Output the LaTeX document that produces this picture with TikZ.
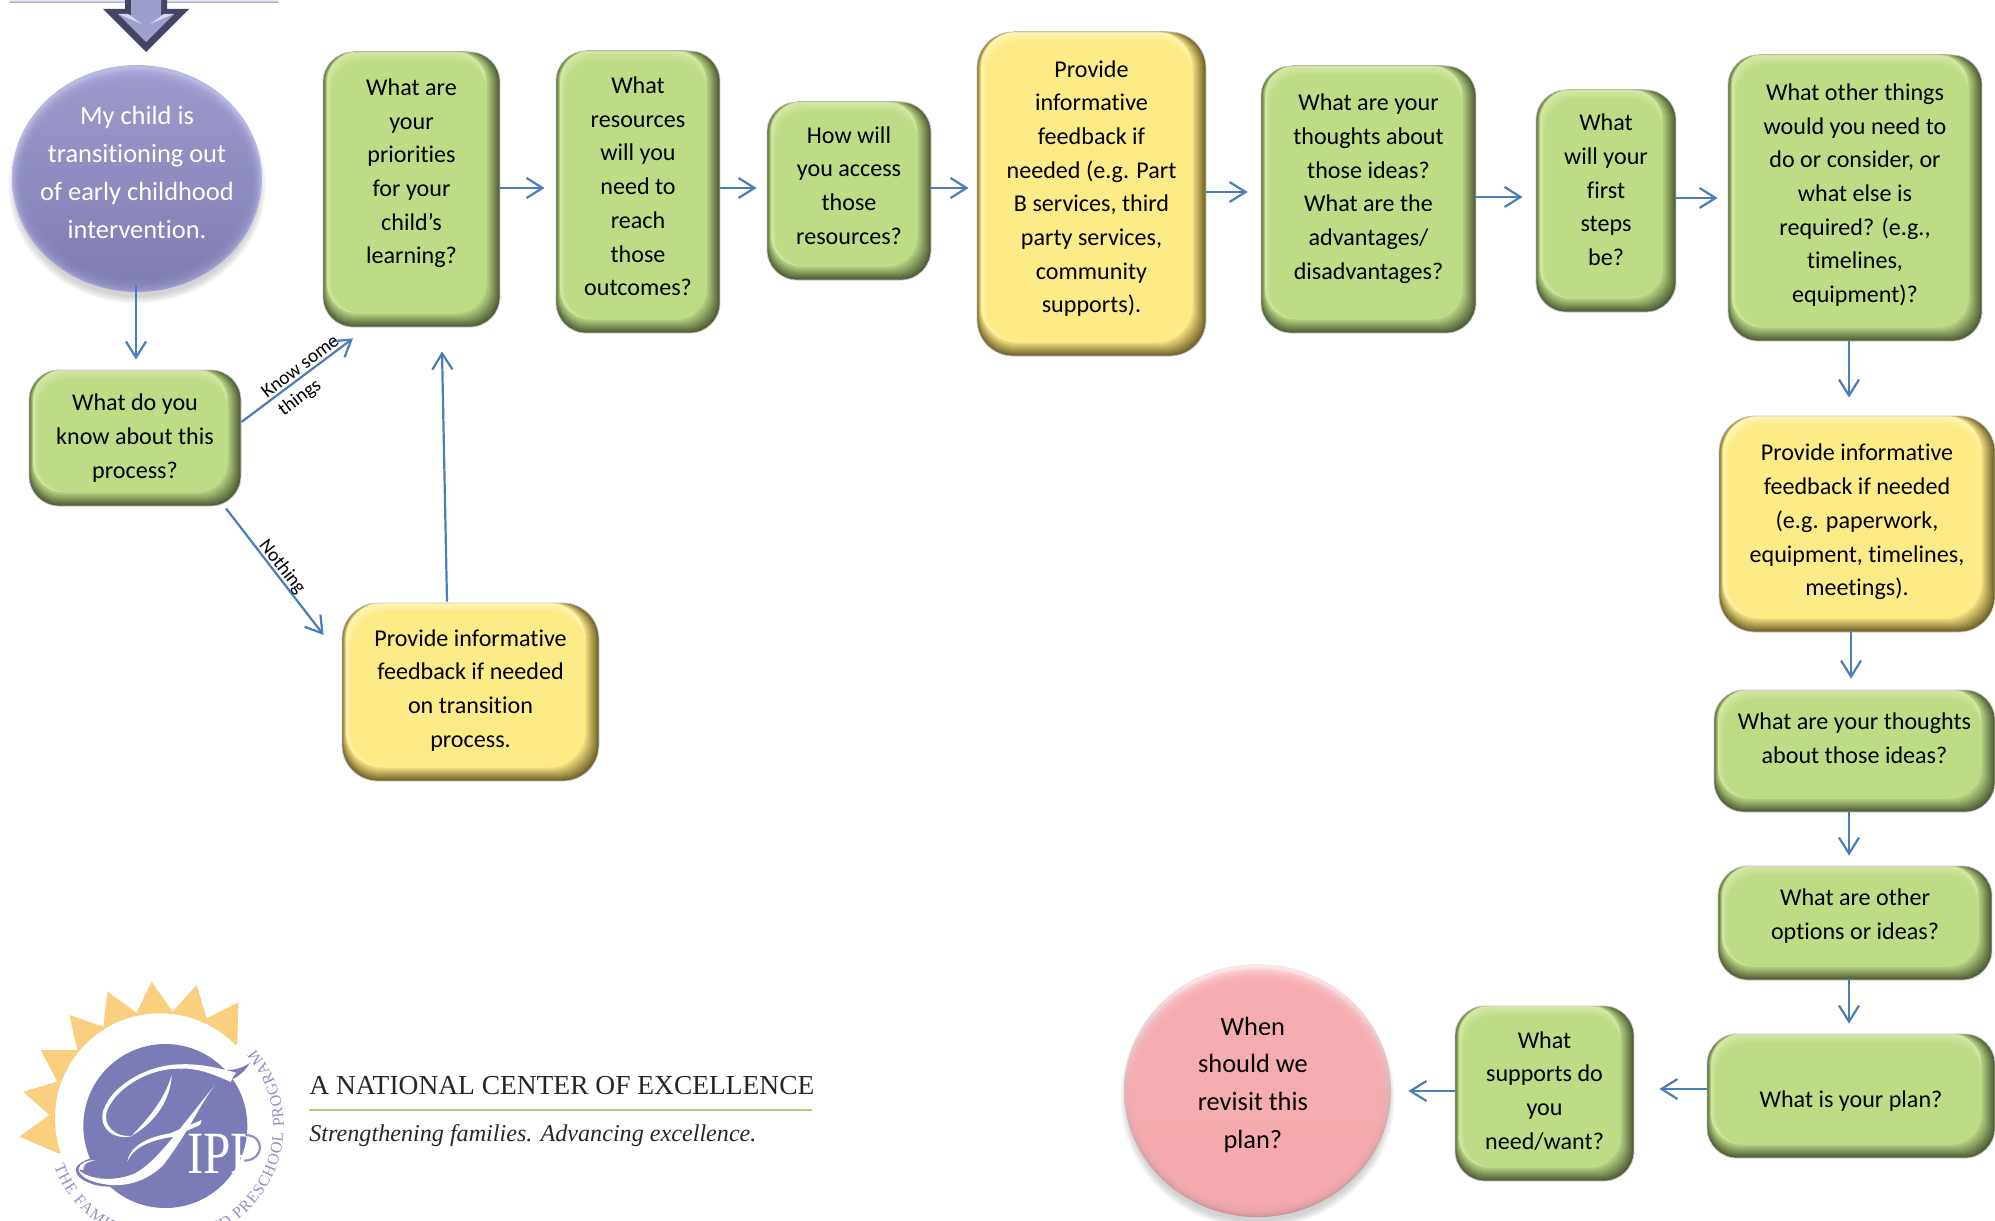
\documentclass[tikz,border=0pt]{standalone}
\usepackage{fontspec}
\setmainfont{Carlito}[Ligatures=NoCommon]
\newfontfamily\logoserif{Liberation Serif}
\usetikzlibrary{arrows.meta,shapes.geometric,decorations.text}
\definecolor{gbase}{HTML}{BEDC86}
\definecolor{glight}{HTML}{D6E8A6}
\definecolor{gdark}{HTML}{4E5A34}
\definecolor{ybase}{HTML}{FDEB88}
\definecolor{ylight}{HTML}{FFF6B4}
\definecolor{ydark}{HTML}{6E6028}
\definecolor{arrowblue}{HTML}{4A7EBB}
\definecolor{sunc}{HTML}{FBCF80}
\definecolor{fippc}{HTML}{7B7BB8}
\definecolor{fipplt}{HTML}{9090C6}
\definecolor{prima}{HTML}{B8B8E4}
\definecolor{primb}{HTML}{AFAFDF}
\definecolor{pfacea}{HTML}{9C9ACC}
\definecolor{pfaceb}{HTML}{7F7DB3}
\definecolor{rrima}{HTML}{FDE6E8}
\definecolor{rrimb}{HTML}{B98A8E}
\definecolor{rface}{HTML}{F9ADB2}
\definecolor{rulegreen}{HTML}{A9CF7A}
\newcommand\bevelpic[4]{% dark light base radius(pt)
  \fill[#1] (path picture bounding box.south west) rectangle (path picture bounding box.north east);
  \foreach \k in {1,...,14}{
    \pgfmathsetmacro\pc{100*\k/14}
    \colorlet{bvc}{#3!\pc!#1}
    \fill[bvc,rounded corners=#4pt]
      ([xshift=0.15*\k pt,yshift=0.5*\k pt]path picture bounding box.south west) rectangle
      ([xshift=-0.5*\k pt]path picture bounding box.north east);
  }
  \foreach \k in {0,...,8}{
    \pgfmathsetmacro\pc{100*\k/8}
    \colorlet{bvc}{#3!\pc!#2}
    \fill[bvc,rounded corners=#4pt]
      ([xshift=2.1pt+0.3*\k pt,yshift=7pt]path picture bounding box.south west) rectangle
      ([xshift=-7pt,yshift=-0.6*\k pt]path picture bounding box.north east);
  }
}
\newcommand\ballpic[6]{% rimtop rimbot facetop facebot rx ry (pt)
  \shade[top color=#1,bottom color=#2] (path picture bounding box.south west) rectangle (path picture bounding box.north east);
  \foreach \k in {1,...,10}{
    \shade[top color=#3,bottom color=#4,opacity=.3]
      ([yshift=-1.2pt]path picture bounding box.center) ellipse [x radius=#5pt-0.7*\k pt, y radius=#6pt-0.9*\k pt];
  }
}
\tikzset{
  greenbox/.style={rectangle,rounded corners=15pt,inner sep=0pt,draw=black!22,line width=.4pt,
    font=\fontsize{12.05}{16.85}\selectfont,text=black,
    path picture={\bevelpic{gdark}{glight}{gbase}{15}}},
  yellowbox/.style={rectangle,rounded corners=18pt,inner sep=0pt,draw=black!22,line width=.4pt,
    font=\fontsize{12.05}{16.85}\selectfont,text=black,
    path picture={\bevelpic{ydark}{ylight}{ybase}{18}}},
  arr/.style={draw=arrowblue,line width=1.1pt,-{Straight Barb[length=8pt,width=10pt,line width=1.1pt]}},
  edgelabel/.style={font=\fontsize{9.7}{13}\selectfont,inner sep=0pt,align=center,text=black},
}
\newcommand\bx[8]{%
  \pgfmathsetmacro\cxx{(#3+#5)/2}\pgfmathsetmacro\cyy{(#4+#6)/2}%
  \pgfmathsetmacro\ww{(#5-#3)*.5}\pgfmathsetmacro\hh{(#6-#4)*.5}%
  \pgfmathsetmacro\rr{(\cyy-#7)*.5-3.95}%
  \node[#1,minimum width=\ww pt,minimum height=\hh pt] (#2) at (\cxx,\cyy)
    {\smash{\raisebox{\rr pt}{\begin{tabular}{@{}c@{}}#8\end{tabular}}}};}
\begin{document}
\begin{tikzpicture}[x=0.5pt,y=-0.5pt]
\useasboundingbox (0,0) rectangle (1995,1220);
% top bar and block arrow
\fill[top color=white!80!fipplt,bottom color=fipplt] (10,0) rectangle (278,3);
\fill[fill=black!45!fippc] (125,0) -- (167,0) -- (167,9) -- (189,9) -- (146,52) -- (103,9) -- (125,9) -- cycle;
\shade[top color=fipplt!90!white,bottom color=fippc!70!white] (131,0) -- (161,0) -- (161,15) -- (174,14) -- (146,42) -- (118,14) -- (131,15) -- cycle;
\fill[white!65!fipplt] (118,14) -- (128,14) -- (142,24) -- cycle;
\fill[white!65!fipplt] (174,14) -- (164,14) -- (150,24) -- cycle;
% soft shadows of the two balls
\foreach \k in {0,...,7}{
  \fill[black,opacity=.022] (137,186) ellipse [x radius=125+\k-3, y radius=113.5+\k-3];
  \fill[black,opacity=.022] (1257.5,1098) ellipse [x radius=133.5+\k-3, y radius=126.5+\k-3];
}
% balls
\node[ellipse,inner sep=0pt,minimum width=125pt,minimum height=113.5pt,
  font=\fontsize{13.2}{18.9}\selectfont,text=white,
  path picture={\ballpic{prima}{primb}{pfacea}{pfaceb}{62.5}{56.75}}] (child) at (137,178.5)
  {\makebox[0pt]{\smash{\raisebox{-0.8pt}{\begin{tabular}{@{}c@{}}My child is\\transitioning out\\of early childhood\\intervention.\end{tabular}}}}};
\node[ellipse,inner sep=0pt,minimum width=133.5pt,minimum height=126.5pt,
  font=\fontsize{13.2}{18.9}\selectfont,text=black,
  path picture={\ballpic{rrima}{rrimb}{rface}{rface}{66.75}{63.25}}] (revisit) at (1257.5,1090.5)
  {\makebox[0pt]{\smash{\raisebox{0.1pt}{\begin{tabular}{@{}c@{}}When\\should we\\revisit this\\plan?\end{tabular}}}\hspace*{4.6pt}}};
% boxes
\bx{greenbox}{know}{29}{370}{241}{506}{436}{What do you\\know about this\\process?}
\bx{greenbox}{priorities}{323}{52}{500}{327}{171}{What are\\your\\priorities\\for your\\child’s\\learning?}
\bx{greenbox}{resources}{556}{51}{720}{333}{186}{What\\resources\\will you\\need to\\reach\\those\\outcomes?}
\bx{greenbox}{access}{767}{102}{931}{280}{185}{How will\\you access\\those\\resources?}
\bx{yellowbox}{provide}{977}{32}{1206}{356}{186.4}{Provide\\informative\\feedback if\\needed (e.g. Part\\B services, third\\party services,\\community\\supports).}
\bx{greenbox}{thoughts}{1261}{66}{1476}{333}{186.4}{What are your\\thoughts about\\those ideas?\\What are the\\advantages/\\disadvantages?}
\bx{greenbox}{first}{1536}{90}{1676}{312}{189.6}{What\\will your\\first\\steps\\be?}
\bx{greenbox}{other}{1728}{55}{1982}{341}{192.8}{What other things\\would you need to\\do or consider, or\\what else is\\required? (e.g.,\\timelines,\\equipment)?}
\bx{yellowbox}{feedbacktwo}{1719}{416}{1995}{632}{519.7}{Provide informative\\feedback if needed\\(e.g. paperwork,\\equipment, timelines,\\meetings).}
\bx{greenbox}{thoughtstwo}{1714}{690}{1995}{812}{738}{What are your thoughts\\about those ideas?}
\bx{greenbox}{options}{1718}{866}{1992}{980}{914}{What are other\\options or ideas?}
\bx{greenbox}{plan}{1707}{1034}{1995}{1158}{1099}{What is your plan?}
\bx{greenbox}{supports}{1455}{1006}{1634}{1181}{1090}{What\\supports do\\you\\need/want?}
\bx{yellowbox}{feedbackone}{342}{603}{599}{781}{688}{Provide informative\\feedback if needed\\on transition\\process.}
% connectors
\draw[arr] ([shift={(-1,-7)}]child.south) -- ([shift={(1,-10)}]know.north);
\draw[arr] ([shift={(0,-16)}]know.east) -- ([shift={(-58.5,11)}]priorities.south);
\draw[arr] ([shift={(91,2)}]know.south) -- ([shift={(-18,-57)}]feedbackone.west);
\draw[arr] ([shift={(-23.5,-1)}]feedbackone.north) -- ([shift={(30.5,24)}]priorities.south);
\draw[arr] ([shift={(0,-1.5)}]priorities.east) -- ([shift={(-11,-4)}]resources.west);
\draw[arr] ([shift={(0,-4)}]resources.east) -- ([shift={(-10,-3)}]access.west);
\draw[arr] ([shift={(0,-3)}]access.east) -- ([shift={(-8,-6)}]provide.west);
\draw[arr] ([shift={(0,-2)}]provide.east) -- ([shift={(-13,-7.5)}]thoughts.west);
\draw[arr] ([shift={(0,-2.5)}]thoughts.east) -- ([shift={(-13,-4)}]first.west);
\draw[arr] ([shift={(0,-3)}]first.east) -- ([shift={(-10,0)}]other.west);
\draw[arr] ([shift={(-6,0)}]other.south) -- ([shift={(-8,-18)}]feedbacktwo.north);
\draw[arr] ([shift={(-6,0)}]feedbacktwo.south) -- ([shift={(-3.5,-11)}]thoughtstwo.north);
\draw[arr] ([shift={(-5.5,0)}]thoughtstwo.south) -- ([shift={(-6,-10)}]options.north);
\draw[arr] ([shift={(-6,0)}]options.south) -- ([shift={(-2,-10)}]plan.north);
\draw[arr] ([shift={(0,-7)}]plan.west) -- ([shift={(25,-4.5)}]supports.east);
\draw[arr] ([shift={(0,-2.5)}]supports.west) -- ([shift={(17,0.5)}]revisit.east);
% edge labels
\node[edgelabel,rotate=37] (lblknow) at (300,366) {Know some};
\node[edgelabel,rotate=37] (lblthings) at (300,398) {things};
\node[edgelabel,rotate=-52] (lblnothing) at (282,567) {Nothing};
% logo
\begin{scope}[shift={(0,970)},x=0.16667pt,y=-0.16667pt]
\fill[sunc] (175,550) -- (58,500) -- (148,435) -- (70,365) -- (172,335) -- (122,240) -- (232,240) -- (208,135) -- (310,170) -- (322,65) -- (410,128) -- (455,35) -- (518,125) -- (590,45) -- (620,145) -- (715,97) -- (712,220) -- (480,445) -- cycle;
\fill[white] (480,445) circle [radius=315];
\fill[fippc] (496,468) circle [radius=246];
% purple swashes leaving the disc
\fill[fippc] (300,560) .. controls (255,565) and (222,585) .. (228,605) .. controls (235,630) and (280,650) .. (330,650) -- cycle;
\fill[fippc] (680,335) .. controls (710,325) and (735,305) .. (750,278) .. controls (735,290) and (710,300) .. (680,300) -- cycle;
% script F in white
\fill[white] (400,497) .. controls (340,515) and (290,470) .. (312,415) .. controls (340,345) and (440,285) .. (540,283) .. controls (600,280) and (660,295) .. (708,308) .. controls (700,320) and (695,328) .. (692,336) .. controls (640,312) and (590,292) .. (530,296) .. controls (440,298) and (350,355) .. (322,420) .. controls (305,465) and (345,505) .. (400,497) -- cycle;
\fill[white] (515,315) .. controls (512,385) and (470,455) .. (395,497) .. controls (450,440) and (495,385) .. (515,315) -- cycle;
\fill[white] (645,345) .. controls (595,410) and (570,480) .. (490,585) .. controls (445,630) and (380,655) .. (310,642) .. controls (270,635) and (240,620) .. (235,598) .. controls (262,628) and (340,638) .. (405,610) .. controls (470,575) and (535,480) .. (645,345) -- cycle;
\fill[white] (382,575) .. controls (390,525) and (450,500) .. (510,490) -- (605,450) -- (600,465) -- (520,500) .. controls (455,510) and (400,530) .. (382,575) -- cycle;
\fill[white] (235,598) .. controls (240,578) and (262,568) .. (285,572) .. controls (262,574) and (248,584) .. (250,600) -- cycle;
\node[inner sep=0pt,text=white] (ipp) at (668,550) {\logoserif\fontsize{30}{30}\selectfont\scalebox{.82}[1]{IPP}};
\draw[fipplt,line width=1.1pt] (736,495) .. controls (795,495) and (795,570) .. (733,572);
\path[decorate,decoration={text along path,text color=fipplt,
  text={|\logoserif\fontsize{8}{9}\selectfont|THE FAMILY INFANT AND PRESCHOOL PROGRAM},
  text align={fit to path}}]
  (496,468) ++(160:355) arc [start angle=160,end angle=-40.6,radius=355];
\end{scope}
\node[anchor=base west,inner sep=0pt,text=black!85] (center) at (309,1094) {\logoserif\resizebox{252.5pt}{!}{A NATIONAL CENTER OF EXCELLENCE}};
\draw[line width=1.3pt,draw=rulegreen] (309,1110) coordinate (ruleleft) -- (812,1110) coordinate (ruleright);
\node[anchor=base west,inner sep=0pt,text=black!85] (tagline) at (309,1141) {\logoserif\itshape\resizebox{223.5pt}{!}{Strengthening families. Advancing excellence.}};
\end{tikzpicture}
\end{document}
